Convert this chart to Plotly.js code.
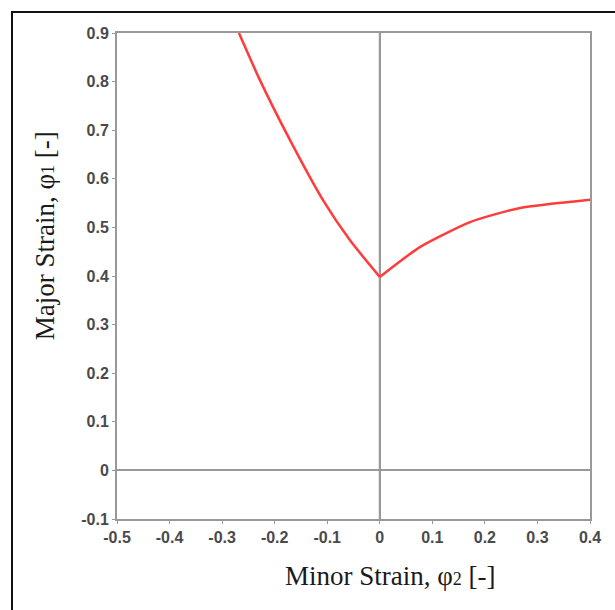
<!DOCTYPE html>
<html>
<head>
<meta charset="utf-8">
<script src="https://cdn.plot.ly/plotly-3.0.1.min.js"></script>
<style>
  html, body { margin: 0; padding: 0; background: #fff; }
  #wrap { position: relative; width: 615px; height: 610px; }
  #chart { position: absolute; left: 0; top: 0; width: 615px; height: 610px; }
  #frame { position: absolute; left: 11px; top: 11px; width: 604px; height: 599px;
           border-top: 2px solid #111; border-left: 2px solid #111; pointer-events: none; }
</style>
</head>
<body>
<div id="wrap"><div id="chart"></div><div id="frame"></div></div>
<script>
const minorStrain = [-0.268, -0.228, -0.171, -0.108, -0.057, 0.0, 0.077, 0.172, 0.267, 0.4];
const majorStrain = [0.9, 0.803, 0.680, 0.556, 0.474, 0.398, 0.460, 0.511, 0.540, 0.557];
const xTicks = [-0.5, -0.4, -0.3, -0.2, -0.1, 0, 0.1, 0.2, 0.3, 0.4];
const yTicks = [-0.1, 0, 0.1, 0.2, 0.3, 0.4, 0.5, 0.6, 0.7, 0.8, 0.9];
const xTickText = ['-0.5','-0.4','-0.3','-0.2','-0.1','0','0.1','0.2','0.3','0.4'];
const yTickText = ['-0.1','0','0.1','0.2','0.3','0.4','0.5','0.6','0.7','0.8','0.9'];
const xTitle = 'Minor Strain, φ<span style="font-size:18px">2</span> [-]';
const yTitle = 'Major Strain, φ<span style="font-size:18px">1</span> [-]';

const leftX = minorStrain.slice(0, 6), leftY = majorStrain.slice(0, 6);
const rightX = minorStrain.slice(5), rightY = majorStrain.slice(5);

const lineStyle = {color: '#ff3b3b', width: 2.5, shape: 'spline', smoothing: 0.6};
const traces = [
  {x: leftX, y: leftY, mode: 'lines', line: lineStyle, hoverinfo: 'skip'},
  {x: rightX, y: rightY, mode: 'lines', line: lineStyle, hoverinfo: 'skip'}
];

const tickFont = {family: 'Liberation Sans, Arial, sans-serif', size: 16, color: '#4a4a4a', weight: 'bold'};
const titleFont = {family: 'Liberation Serif, Times New Roman, serif', size: 27, color: '#1a1a1a'};

const layout = {
  width: 615, height: 610,
  margin: {l: 117, r: 25, t: 33, b: 91},
  paper_bgcolor: '#fff', plot_bgcolor: '#fff',
  showlegend: false,
  xaxis: {
    range: [-0.5, 0.4], tickvals: xTicks, ticktext: xTickText,
    showgrid: false, zeroline: true, zerolinecolor: '#999', zerolinewidth: 2,
    showline: true, mirror: true, linecolor: '#999', linewidth: 2,
    ticks: 'outside', ticklen: 3, tickcolor: '#999', tickwidth: 1,
    tickfont: tickFont
  },
  yaxis: {
    range: [-0.1, 0.9], tickvals: yTicks, ticktext: yTickText,
    showgrid: false, zeroline: true, zerolinecolor: '#999', zerolinewidth: 2,
    showline: true, mirror: true, linecolor: '#999', linewidth: 2,
    ticks: 'outside', ticklen: 3, tickcolor: '#999', tickwidth: 1,
    tickfont: tickFont
  },
  annotations: [
    {text: xTitle, xref: 'paper', yref: 'paper', x: 0.579, y: -0.117,
     xanchor: 'center', yanchor: 'middle', showarrow: false, font: titleFont},
    {text: yTitle, xref: 'paper', yref: 'paper', x: -0.152, y: 0.582, textangle: -90,
     xanchor: 'center', yanchor: 'middle', showarrow: false, font: titleFont}
  ],
  shapes: [
    {type: 'line', xref: 'x', yref: 'paper', x0: 0, x1: 0, y0: 0, y1: 1, line: {color: '#999', width: 2}, layer: 'below'}
  ]
};

Plotly.newPlot('chart', traces, layout, {displayModeBar: false, staticPlot: true});
</script>
</body>
</html>
